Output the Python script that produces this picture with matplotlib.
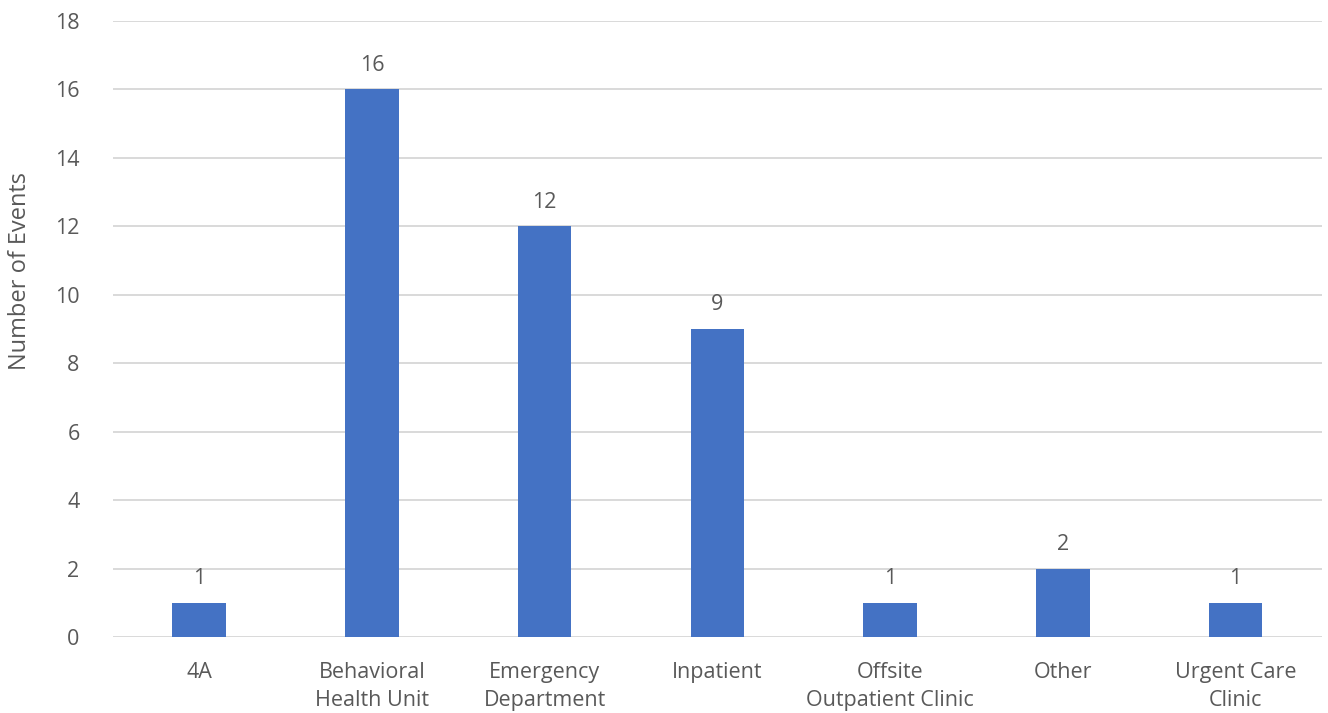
import matplotlib.pyplot as plt

# event counts by location
locations = ['4A', 'Behavioral\nHealth Unit', 'Emergency\nDepartment', 'Inpatient',
             'Offsite\nOutpatient Clinic', 'Other', 'Urgent Care\nClinic']
events = [1, 16, 12, 9, 1, 2, 1]
y_ticks = [0, 2, 4, 6, 8, 10, 12, 14, 16, 18]

plt.rcParams['font.family'] = ['Open Sans', 'DejaVu Sans']
text_color = '#595959'
fs = 15.5

fig = plt.figure(figsize=(13.28, 7.13), dpi=100)
ax = fig.add_axes([0.085, 0.1066, 0.9105, 0.8639])

x = range(len(locations))
bars = ax.bar(x, events, width=0.31, color='#4472C4', zorder=3)

for b, v in zip(bars, events):
    ax.text(b.get_x() + b.get_width() / 2, v + 0.4, str(v), ha='center', va='bottom',
            fontsize=fs, color=text_color)

ax.set_xlim(-0.5, len(locations) - 0.5)
ax.set_ylim(0, 18)
ax.set_yticks(y_ticks)
ax.set_xticks(list(x))
ax.set_xticklabels(locations, fontsize=fs, color=text_color, linespacing=1.45)
ax.tick_params(axis='y', labelsize=fs, labelcolor=text_color, length=0, pad=24)
ax.tick_params(axis='x', length=0, pad=18)
ax.set_ylabel('Number of Events', fontsize=17, color=text_color)
ax.yaxis.set_label_coords(-0.067, 0.594)

ax.grid(axis='y', color='#D9D9D9', linewidth=1.4, zorder=0)
for s in ax.spines.values():
    s.set_visible(False)

plt.savefig('out.png', dpi=100)
plt.close()
